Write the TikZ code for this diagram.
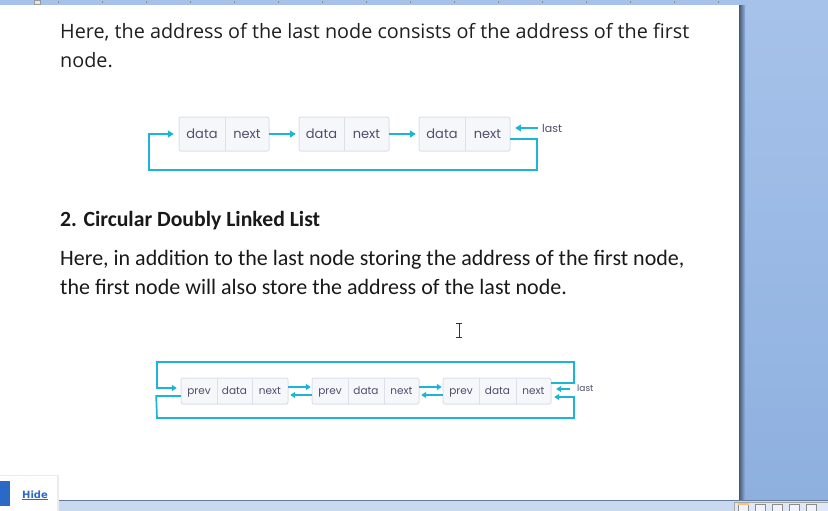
\documentclass[tikz,border=0pt]{standalone}
\usepackage{fontspec}
\setmainfont{Open Sans}
\newfontfamily\calfont{Carlito}
\newfontfamily\popfont{Poppins}
\newfontfamily\uifont{DejaVu Sans}
\usetikzlibrary{arrows.meta}
\definecolor{cyanline}{HTML}{1CB5D8}
\definecolor{cellfill}{HTML}{F6F7FB}
\definecolor{cellborder}{HTML}{DCE0EA}
\definecolor{celltext}{HTML}{4E4E6C}
\definecolor{panelblue}{HTML}{8EB0DF}
\definecolor{panellight}{HTML}{A6C2EA}
\definecolor{barblue}{HTML}{C9DAF0}
\definecolor{linkblue}{HTML}{2A6AC6}
\tikzset{
  cellA/.style={minimum height=34pt, inner sep=0pt, text height=9pt, text depth=0pt, font=\popfont\fontsize{13}{13}\selectfont, text=celltext},
  cellB/.style={minimum height=26pt, inner sep=0pt, text height=7.5pt, text depth=0pt, font=\popfont\fontsize{10.5}{10.5}\selectfont, text=celltext},
  outerbox/.style={draw=cellborder, fill=cellfill, line width=1pt, rounded corners=2pt},
  divider/.style={draw=cellborder, line width=1pt},
  link/.style={draw=cyanline, line width=2pt, -{Triangle[width=7pt,length=6pt]}},
  linkB/.style={draw=cyanline, line width=1.7pt, -{Triangle[width=6pt,length=5pt]}},
  wire/.style={draw=cyanline, line width=2pt},
  body/.style={anchor=base west, inner sep=0pt, font=\fontsize{19.8}{22}\selectfont, text=black!88},
  calbody/.style={anchor=base west, inner sep=0pt, font=\calfont\fontsize{22}{24}\selectfont, text=black!90},
  lastlbl/.style={anchor=west, inner sep=0pt, font=\popfont\fontsize{11}{11}\selectfont, text=celltext}
}
\begin{document}
\begin{tikzpicture}[x=1pt,y=-1pt]
\useasboundingbox (0,0) rectangle (828,511);
% page
\fill[white] (0,0) rectangle (828,511);
% right panel
\shade[top color=panellight, bottom color=panelblue] (740,5) rectangle (828,500);
\shade[left color=black!50!panelblue, right color=panelblue] (739,5) rectangle (745,500);
% top bar
\fill[panellight] (0,0) rectangle (828,5);
\fill[white!60!panellight, draw=black!40] (34,0) rectangle (40,4);
\foreach \t in {58,102,146,190,234,278,322,366,410,454,498,542,586,630,674,718}
  \draw[black!45, line width=0.6pt] (\t,1) -- (\t,3);
% bottom bar
\fill[barblue] (0,500) rectangle (828,511);
\draw[black!30!panelblue, line width=0.8pt] (0,500) -- (828,500);
\fill[white!40!barblue, draw=black!35] (734,502) rectangle (828,511);
\foreach \ix in {738,755,772,789,806}
  \draw[black!45, line width=0.6pt, fill=white!70!barblue] (\ix,504) rectangle (\ix+10,511);
\fill[orange!50] (738,503) rectangle (749,505);
% hide panel
\fill[black!8] (0,475) rectangle (59,511);
\fill[white] (0,476) rectangle (57,511);
\fill[linkblue] (0,481) rectangle (10,506);
\node[anchor=base west, inner sep=0pt, font=\uifont\fontsize{10}{10}\selectfont\bfseries, text=linkblue] (hide) at (22,498) {\underline{Hide}};
% text
\node[body] (p1a) at (60,39) {Here, the address of the last node consists of the address of the first};
\node[body] (p1b) at (60,67) {node.};
\node[calbody, font=\calfont\bfseries\fontsize{21.7}{24}\selectfont] (h2) at (60,226) {2. Circular Doubly Linked List};
\node[calbody] (p2a) at (60,265) {Here, in addition to the last node storing the address of the first node,};
\node[calbody] (p2b) at (60,294) {the first node will also store the address of the last node.};
% cursor
\draw[black!80, line width=0.9pt] (456,323) -- (462,323) (459,323) -- (459,337) (456,337) -- (462,337);

% ---------- diagram 1 ----------
\foreach \i/\xa/\xm/\xb in {1/179/225/269, 2/299/344/389, 3/419/465/510}{
  \draw[outerbox] (\xa,117) rectangle (\xb,151);
  \draw[divider] (\xm,117) -- (\xm,151);
}
\node[cellA, minimum width=46pt] (d1) at (202,134) {data};
\node[cellA, minimum width=44pt] (n1) at (247,134) {next};
\node[cellA, minimum width=45pt] (d2) at (321.5,134) {data};
\node[cellA, minimum width=45pt] (n2) at (366.5,134) {next};
\node[cellA, minimum width=46pt] (d3) at (442,134) {data};
\node[cellA, minimum width=45pt] (n3) at (487.5,134) {next};
\draw[link, shorten >=3pt] (n1.east) -- (d2.west);
\draw[link, shorten >=3pt] (n2.east) -- (d3.west);
\coordinate (l1a) at (537,139);
\coordinate (l1b) at (537,170);
\coordinate (l1c) at (149,170);
\coordinate (l1d) at (149,134);
\draw[wire] (n3.east |- l1a) -- (l1a) -- (l1b) -- (l1c) -- (l1d);
\draw[link, shorten >=5pt] ([xshift=-1pt]l1d) -- (d1.west);
\coordinate (last1) at (538,128);
\draw[link, shorten >=5pt] (last1) -- (n3.east |- last1);
\node[lastlbl] (lastA) at (542,128) {last};

% ---------- diagram 2 ----------
\foreach \xa/\xm/\xn/\xb in {181/217/252/288, 312/348/384/419, 443/479/516/551}{
  \draw[outerbox] (\xa,378) rectangle (\xb,404);
  \draw[divider] (\xm,378) -- (\xm,404);
  \draw[divider] (\xn,378) -- (\xn,404);
}
\node[cellB, minimum width=36pt] (p1) at (199,391) {prev};
\node[cellB, minimum width=35pt] (e1) at (234.5,391) {data};
\node[cellB, minimum width=36pt] (x1) at (270,391) {next};
\node[cellB, minimum width=36pt] (p2) at (330,391) {prev};
\node[cellB, minimum width=36pt] (e2) at (366,391) {data};
\node[cellB, minimum width=35pt] (x2) at (401.5,391) {next};
\node[cellB, minimum width=36pt] (p3) at (461,391) {prev};
\node[cellB, minimum width=37pt] (e3) at (497.5,391) {data};
\node[cellB, minimum width=35pt] (x3) at (533.5,391) {next};
% between nodes
\foreach \a/\b in {x1/p2, x2/p3}{
  \draw[linkB, shorten >=1pt] ([yshift=4pt]\a.east) -- ([yshift=4pt]\b.west);
  \draw[linkB, shorten >=2pt] ([yshift=-4pt]\b.west) -- ([yshift=-4pt]\a.east);
}
% top loop
\coordinate (t1) at (574,383);
\coordinate (t2) at (574,362);
\coordinate (t3) at (157,362);
\coordinate (t4) at (157,388);
\draw[wire, line width=1.7pt] (x3.east |- t1) -- (t1) -- (t2) -- (t3) -- (t4);
\draw[linkB, shorten >=4pt] ([xshift=-0.85pt]t4) -- (p1.west |- t4);
% bottom loop
\coordinate (b1) at (157,396);
\coordinate (b2) at (157,418);
\coordinate (b3) at (574,418);
\coordinate (b4) at (574,397);
\draw[wire, line width=1.7pt] (p1.west |- b1) -- ([xshift=-0.85pt]b1) -- (b2) -- (b3) -- (b4);
\draw[linkB, shorten >=3pt] ([xshift=0.85pt]b4) -- (x3.east |- b4);
% last
\coordinate (last2) at (570,389);
\draw[linkB, shorten >=5pt] (last2) -- (x3.east |- last2);
\node[lastlbl, font=\popfont\fontsize{9}{9}\selectfont] (lastB) at (577,388) {last};
\end{tikzpicture}
\end{document}
